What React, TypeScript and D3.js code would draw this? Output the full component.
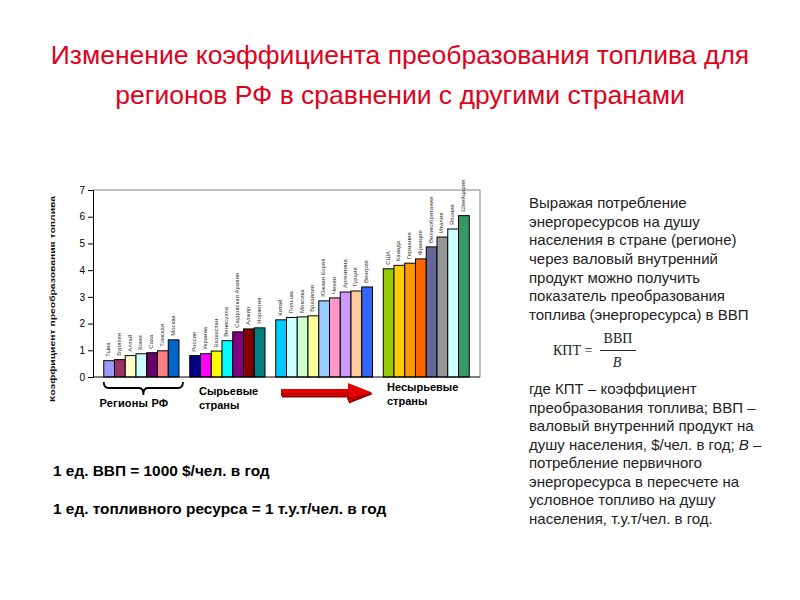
import React, { useEffect, useRef } from "react";
import * as d3 from "d3";

// regions of Russia
const regionNames = ["Тыва", "Бурятия", "Алтай", "Коми", "Саха", "Томская", "Москва"];
const regionValues = [0.61, 0.65, 0.8, 0.87, 0.91, 0.98, 1.39];
const regionColors = ["#9999FF", "#993366", "#FFFFCC", "#CCFFFF", "#660066", "#FF8080", "#0066CC"];

// raw-material countries
const rawNames = ["Россия", "Украина", "Казахстан", "Венесуэла", "Саудовская Аравия", "Алжир", "Норвегия"];
const rawValues = [0.8, 0.87, 0.97, 1.36, 1.69, 1.8, 1.84];
const rawColors = ["#000080", "#FF00FF", "#FFFF00", "#00FFFF", "#800080", "#800000", "#008080"];

// transitional countries
const midNames = ["Китай", "Польша", "Мексика", "Бразилия", "Южная Корея", "Чехия", "Аргентина", "Турция", "Венгрия"];
const midValues = [2.14, 2.23, 2.25, 2.29, 2.85, 2.96, 3.18, 3.22, 3.37];
const midColors = ["#00CCFF", "#CCFFFF", "#CCFFCC", "#FFFF99", "#99CCFF", "#FF99CC", "#CC99FF", "#FFCC99", "#3366FF"];

// non-raw countries
const nonRawNames = ["США", "Канада", "Германия", "Франция", "Великобритания", "Италия", "Япония", "Швейцария"];
const nonRawValues = [4.05, 4.18, 4.26, 4.42, 4.87, 5.24, 5.54, 6.04];
const nonRawColors = ["#99CC00", "#FFCC00", "#FF9900", "#FF6600", "#666699", "#969696", "#CCFFFF", "#339966"];

const yTicks = [0, 1, 2, 3, 4, 5, 6, 7];

const introLines = [
  "Выражая потребление",
  "энергоресурсов на душу",
  "населения в стране (регионе)",
  "через валовый внутренний",
  "продукт можно получить",
  "показатель преобразования",
  "топлива (энергоресурса) в ВВП",
];
const noteLines = [
  "где КПТ – коэффициент",
  "преобразования топлива; ВВП –",
  "валовый внутренний продукт на",
  "душу населения, $/чел. в год; |В| –",
  "потребление первичного",
  "энергоресурса в пересчете на",
  "условное топливо на душу",
  "населения, т.у.т/чел. в год.",
];

const FONT = "Arial, 'Liberation Sans', sans-serif";

export default function App() {
  const ref = useRef<SVGSVGElement>(null);

  useEffect(() => {
    const svg = d3.select(ref.current);
    svg.selectAll("*").remove();

    // one empty slot before each group and one at the end
    const slots: any[] = [];
    const groups = [
      [regionNames, regionValues, regionColors],
      [rawNames, rawValues, rawColors],
      [midNames, midValues, midColors],
      [nonRawNames, nonRawValues, nonRawColors],
    ];
    groups.forEach((g: any, gi) => {
      slots.push({ key: "gap" + gi, empty: true });
      g[0].forEach((name: string, i: number) =>
        slots.push({ key: name, name, value: g[1][i], color: g[2][i] })
      );
    });
    slots.push({ key: "gapEnd", empty: true });

    const left = 93, right = 480, top = 190, bottom = 377;
    const x = d3.scaleBand().domain(slots.map(d => d.key)).range([left, right]).padding(0);
    const y = d3.scaleLinear().domain([0, 7]).range([bottom, top]);

    // frame
    svg.append("path")
      .attr("d", `M${left},${top}H${right}V${bottom}`)
      .attr("fill", "none").attr("stroke", "#808080").attr("stroke-width", 1);

    const bars = slots.filter(d => !d.empty);
    svg.selectAll(".bar").data(bars).join("rect")
      .attr("class", "bar")
      .attr("x", d => x(d.key)!)
      .attr("y", d => y(d.value))
      .attr("width", x.bandwidth())
      .attr("height", d => y(0) - y(d.value))
      .attr("fill", d => d.color)
      .attr("stroke", "#000").attr("stroke-width", 1);

    svg.selectAll(".lbl").data(bars).join("text")
      .attr("class", "lbl")
      .attr("transform", d => `translate(${x(d.key)! + x.bandwidth() / 2 + 1},${y(d.value) - 4}) rotate(-90)`)
      .style("font-family", FONT)
      .style("font-size", "6px")
      .attr("fill", "#333")
      .text(d => d.name);

    // axes
    const yAxis = svg.append("g").attr("transform", `translate(${left},0)`)
      .call(d3.axisLeft(y).tickValues(yTicks).tickSize(5).tickPadding(3).tickFormat(d3.format("d")));
    yAxis.select(".domain").attr("stroke", "#000");
    yAxis.selectAll("text").style("font-family", FONT).style("font-size", "10px").attr("fill", "#000");

    svg.append("line").attr("x1", left).attr("x2", right).attr("y1", bottom).attr("y2", bottom).attr("stroke", "#000");

    svg.append("text")
      .attr("transform", `translate(55,${(top + 400) / 2 + 4}) rotate(-90)`)
      .attr("text-anchor", "middle")
      .attr("textLength", 206).attr("lengthAdjust", "spacingAndGlyphs")
      .style("font-family", FONT)
      .style("font-size", "8px").style("font-weight", "bold")
      .attr("fill", "#111")
      .text("Коэффициент преобразования топлива");

    // brace under the regions
    const b0 = x(regionNames[0])!, b1 = x(regionNames[regionNames.length - 1])! + x.bandwidth() + 4;
    const bm = (b0 + b1) / 2;
    svg.append("path")
      .attr("d", `M${b0},382 Q${b0},388 ${b0 + 5},388 H${bm - 4} Q${bm},388 ${bm},395 Q${bm},388 ${bm + 4},388 H${b1 - 5} Q${b1},388 ${b1},382`)
      .attr("fill", "none").attr("stroke", "#000").attr("stroke-width", 1.8);

    const boldSmall = (t: string, tx: number, ty: number, anchor = "start") =>
      svg.append("text").attr("x", tx).attr("y", ty).attr("text-anchor", anchor)
        .style("font-family", FONT)
        .style("font-size", "11px").style("font-weight", "bold").attr("fill", "#000").text(t);

    boldSmall("Регионы РФ", 134, 407, "middle").attr("letter-spacing", "0.2px");
    boldSmall("Сырьевые", 199, 395);
    boldSmall("страны", 199, 409);
    boldSmall("Несырьевые", 387, 391);
    boldSmall("страны", 387, 405);

    // red arrow
    const arrow = "M281,389 H348 V383 L372,392.5 L348,402 V396 H281 Z";
    svg.append("path").attr("d", arrow).attr("transform", "translate(1,1.5)").attr("fill", "#8a0000");
    svg.append("path").attr("d", arrow).attr("fill", "#e40000");
    svg.append("path").attr("d", "M281,394 H348 V399 L366,394.8").attr("fill", "none").attr("stroke", "#a00000").attr("stroke-width", 1.5);

    // title
    const title = svg.append("g").attr("fill", "#e2001a")
      .style("font-family", FONT).style("font-size", "26.5px");
    title.append("text").attr("x", 400).attr("y", 64).attr("text-anchor", "middle")
      .text("Изменение коэффициента преобразования топлива для");
    title.append("text").attr("x", 400).attr("y", 104).attr("text-anchor", "middle")
      .text("регионов РФ в сравнении с другими странами");

    // units
    const units = svg.append("g").attr("fill", "#000")
      .style("font-family", FONT).style("font-size", "15.4px").style("font-weight", "bold");
    units.append("text").attr("x", 53).attr("y", 476).text("1 ед. ВВП = 1000 $/чел. в год");
    units.append("text").attr("x", 53).attr("y", 514).text("1 ед. топливного ресурса = 1 т.у.т/чел. в год");

    // explanation
    const para = svg.append("g").attr("fill", "#222")
      .style("font-family", FONT).style("font-size", "15px");
    para.selectAll(".intro").data(introLines).join("text").attr("class", "intro")
      .attr("x", 529).attr("y", (d, i) => 208.3 + i * 18.55).text(d => d);
    para.selectAll(".note").data(noteLines).join("text").attr("class", "note")
      .attr("x", 529).attr("y", (d, i) => 394 + i * 18.5)
      .each(function (d) {
        const parts = d.split("|");
        const t = d3.select(this);
        parts.forEach((p, i) => t.append("tspan").style("font-style", i % 2 ? "italic" : "normal").text(p));
      });

    const formula = svg.append("g").attr("fill", "#222")
      .style("font-family", "'Times New Roman', 'Liberation Serif', serif").style("font-size", "14px");
    formula.append("text").attr("x", 553).attr("y", 355).text("КПТ =");
    formula.append("text").attr("x", 618).attr("y", 343).attr("text-anchor", "middle").text("ВВП");
    formula.append("line").attr("x1", 600).attr("x2", 636).attr("y1", 350.5).attr("y2", 350.5).attr("stroke", "#222").attr("stroke-width", 1);
    formula.append("text").attr("x", 617).attr("y", 367).attr("text-anchor", "middle").style("font-style", "italic").text("В");
  }, []);

  return (
    <svg ref={ref} width={800} height={600} style={{ position: "absolute", left: 0, top: 0, background: "#fff" }} />
  );
}
